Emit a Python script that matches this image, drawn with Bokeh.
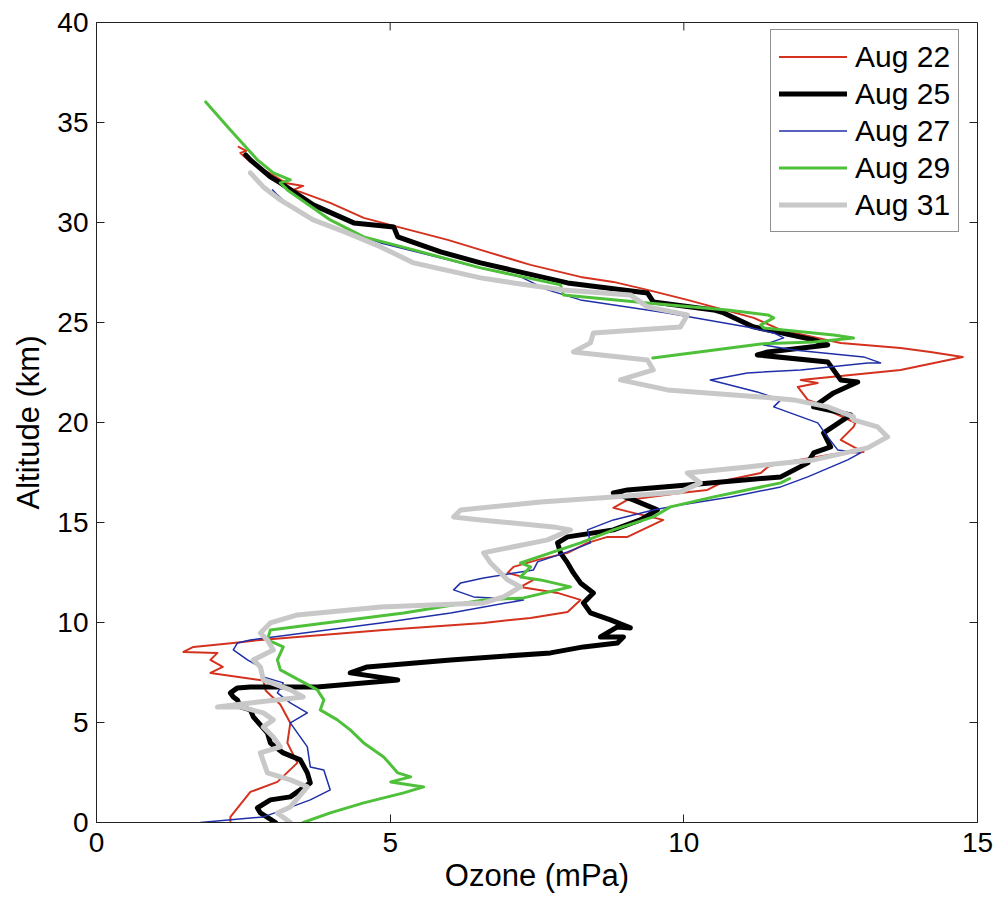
import numpy as np
from bokeh.plotting import figure
from bokeh.models import Range1d, Legend, LegendItem, FixedTicker
from bokeh.embed import file_html
from bokeh.resources import INLINE

# Ozone sonde profiles: partial pressure (mPa) against altitude (km)
oz_aug22 = [2.28, 2.28, 2.62, 3.08, 3.42, 3.25, 3.30, 3.13, 2.88, 2.84, 1.94, 2.15, 1.94, 2.06, 1.48, 1.65,
            2.33, 2.79, 4.89, 6.59, 7.39, 8.02, 8.24, 7.85, 7.22, 7.44, 7.00, 7.10, 7.51, 8.02, 8.36, 8.70,
            9.04, 9.65, 9.14, 8.80, 9.04, 9.94, 10.40, 10.74, 11.31, 11.43, 11.65, 12.67, 13.06, 12.89, 12.67,
            12.89, 12.92, 12.55, 12.45, 12.11, 11.94, 12.28, 11.99, 13.69, 14.75, 14.20, 13.69, 12.67, 11.65,
            11.19, 10.06, 9.38, 8.80, 8.24, 7.39, 6.54, 5.98, 5.13, 4.55, 3.98, 3.47, 3.35, 3.52, 3.22, 3.08,
            2.62, 2.45, 2.55, 2.42]
alt_aug22 = [0.00, 0.28, 1.53, 2.03, 2.98, 3.98, 4.98, 5.90, 6.60, 7.10, 7.48, 7.78, 8.13, 8.48, 8.53, 8.78,
             8.98, 9.13, 9.63, 9.98, 10.23, 10.53, 11.13, 11.48, 11.78, 12.13, 12.48, 12.78, 13.13, 13.48, 13.98,
             14.28, 14.28, 15.13, 15.48, 15.73, 16.13, 16.48, 16.63, 17.13, 17.48, 17.78, 17.98, 18.48, 18.53,
             18.78, 19.13, 19.78, 19.98, 20.48, 20.78, 21.13, 21.78, 21.98, 22.13, 22.63, 23.28, 23.53, 23.73,
             23.98, 24.63, 25.23, 26.13, 26.63, 27.03, 27.28, 27.88, 28.63, 29.13, 29.78, 30.23, 30.98, 31.53,
             31.63, 31.83, 31.98, 32.23, 33.03, 33.48, 33.58, 33.78]

oz_aug25 = [3.05, 2.79, 2.74, 2.96, 3.30, 3.64, 3.59, 3.47, 3.18, 2.96, 2.91, 2.67, 2.62, 2.45, 2.40, 2.33,
            2.28, 2.40, 2.62, 3.76, 5.13, 4.32, 4.61, 6.03, 7.73, 8.29, 8.87, 8.97, 8.58, 8.87, 9.09, 8.75,
            8.41, 8.29, 8.46, 8.24, 8.12, 8.02, 7.90, 7.85, 8.02, 8.80, 9.26, 9.55, 9.14, 8.80, 9.04, 10.06,
            11.65, 12.11, 12.21, 12.50, 12.38, 12.84, 12.21, 12.55, 12.96, 12.67, 12.45, 11.25, 11.43, 12.45,
            12.21, 11.19, 10.68, 10.51, 9.48, 9.38, 8.02, 6.54, 5.86, 5.13, 5.06, 4.38, 3.69, 3.13, 2.96,
            2.62, 2.54]
alt_aug25 = [0.00, 0.48, 0.73, 1.13, 1.28, 1.98, 2.48, 3.13, 3.48, 3.98, 4.48, 5.28, 5.63, 5.78, 6.13, 6.28,
             6.48, 6.73, 6.78, 6.78, 7.13, 7.48, 7.78, 8.13, 8.48, 8.78, 8.98, 9.28, 9.28, 9.78, 9.73, 10.13,
             10.48, 10.98, 11.48, 11.98, 12.48, 12.98, 13.48, 13.98, 14.28, 14.63, 15.13, 15.63, 16.13, 16.48,
             16.63, 16.88, 17.28, 17.98, 18.48, 18.78, 19.48, 20.38, 20.78, 21.48, 22.03, 22.13, 23.03, 23.38,
             23.53, 23.88, 24.13, 24.78, 25.48, 25.63, 26.03, 26.48, 26.98, 27.98, 28.53, 29.28, 29.78, 29.98,
             30.88, 31.98, 32.28, 33.13, 33.38]

oz_aug27 = [1.77, 2.84, 3.18, 3.64, 3.98, 3.87, 3.64, 3.59, 3.42, 3.30, 3.59, 3.30, 3.08, 3.18, 2.84, 2.79,
            2.57, 2.33, 2.40, 2.62, 4.84, 6.03, 7.27, 6.42, 6.08, 6.20, 6.59, 7.44, 7.51, 8.02, 8.41, 8.36,
            8.80, 9.48, 9.94, 10.80, 11.65, 12.11, 12.79, 13.01, 12.62, 12.45, 12.28, 11.53, 11.65, 11.25,
            10.45, 11.08, 11.99, 13.13, 13.35, 13.06, 11.87, 11.36, 11.70, 11.53, 11.08, 9.72, 8.24, 7.68,
            7.22, 6.54, 4.84, 3.69, 3.30, 3.08, 3.00]
alt_aug27 = [0.00, 0.28, 0.63, 1.13, 1.63, 2.63, 2.78, 3.78, 4.48, 4.98, 5.48, 5.98, 6.48, 6.98, 7.28, 7.78,
             8.13, 8.63, 8.98, 9.13, 9.98, 10.48, 11.13, 11.28, 11.63, 11.98, 12.23, 12.63, 13.03, 13.53, 13.98,
             14.63, 15.13, 15.63, 15.88, 16.28, 16.78, 17.28, 18.13, 18.48, 18.63, 19.28, 19.98, 20.78, 21.13,
             21.53, 22.13, 22.48, 22.63, 22.98, 22.98, 23.28, 23.63, 23.88, 24.23, 24.48, 24.78, 25.48, 26.13,
             26.63, 27.28, 27.73, 28.98, 30.13, 30.78, 31.38, 31.63]

# Aug 29 has no data between about 17 and 23 km (NaN breaks the line)
oz_aug29 = [3.52, 3.98, 4.55, 5.23, 5.57, 5.01, 5.35, 5.13, 4.89, 4.55, 4.32, 4.10, 3.81, 3.87, 3.76, 3.13,
            3.08, 3.18, 2.91, 2.96, 5.23, 6.59, 7.27, 8.07, 7.56, 7.22, 7.39, 7.22, 7.73, 8.24, 8.80, 9.48,
            9.77, 10.51, 11.65, 11.80, float("nan"), 9.47, 11.31, 12.21, 12.89, 12.55, 11.36, 11.31, 11.53,
            11.43, 10.74, 9.38, 7.95, 7.90, 7.10, 6.54, 5.40, 4.55, 3.98, 3.42, 3.25, 3.13, 3.30, 3.01, 2.74,
            2.28, 1.86]
alt_aug29 = [0.00, 0.48, 0.98, 1.48, 1.78, 2.03, 2.28, 2.48, 3.28, 3.98, 4.63, 5.13, 5.63, 6.13, 6.63, 7.63,
             8.13, 8.78, 9.13, 9.63, 10.48, 11.13, 11.23, 11.78, 12.13, 12.28, 12.78, 12.98, 13.48, 13.98,
             14.63, 15.28, 15.78, 16.28, 16.98, 17.20, float("nan"), 23.23, 23.93, 24.03, 24.23, 24.38, 24.73,
             24.88, 25.23, 25.38, 25.63, 25.98, 26.38, 26.88, 27.38, 27.73, 28.63, 29.28, 30.13, 31.28, 31.63,
             31.98, 32.13, 32.48, 33.13, 34.63, 36.03]

oz_aug31 = [3.30, 3.08, 3.30, 3.59, 3.30, 2.91, 2.79, 3.13, 3.01, 2.84, 3.01, 2.84, 2.45, 2.06, 2.62, 3.52,
            3.30, 2.84, 2.79, 2.67, 3.01, 2.91, 2.79, 2.96, 3.42, 4.84, 6.59, 6.93, 7.22, 7.00, 6.71, 6.59,
            6.83, 7.68, 8.07, 7.78, 6.54, 6.08, 6.20, 7.56, 8.80, 9.94, 10.28, 10.06, 11.08, 12.21, 13.13,
            13.47, 13.30, 12.89, 12.89, 12.45, 11.87, 11.31, 9.72, 8.92, 9.48, 9.38, 8.12, 8.41, 8.46, 9.94,
            10.06, 9.38, 9.09, 7.95, 7.10, 6.54, 5.40, 4.84, 4.27, 3.69, 3.13, 2.84, 2.62]
alt_aug31 = [0.00, 0.48, 0.78, 1.78, 2.13, 2.48, 3.48, 3.78, 4.28, 4.78, 5.13, 5.48, 5.78, 5.78, 5.98, 6.28,
             6.63, 7.13, 7.78, 8.13, 8.63, 9.13, 9.48, 9.98, 10.38, 10.78, 10.98, 11.28, 11.78, 12.13, 12.98,
             13.48, 13.63, 14.13, 14.63, 14.78, 15.13, 15.28, 15.63, 16.03, 16.28, 16.53, 16.98, 17.48, 17.78,
             18.13, 18.73, 19.28, 19.78, 20.13, 20.28, 20.78, 21.13, 21.28, 21.63, 22.13, 22.63, 23.13, 23.53,
             23.98, 24.48, 24.78, 25.38, 25.78, 26.38, 26.63, 26.98, 27.23, 27.98, 28.78, 29.48, 30.13, 31.13,
             31.78, 32.48]

labels = ["Aug 22", "Aug 25", "Aug 27", "Aug 29", "Aug 31"]
x_ticks = [0, 5, 10, 15]
y_ticks = [0, 5, 10, 15, 20, 25, 30, 35, 40]

series = [
    (oz_aug22, alt_aug22, "#d4321e", 2),
    (oz_aug25, alt_aug25, "#000000", 5),
    (oz_aug27, alt_aug27, "#1f2fa8", 1.5),
    (oz_aug29, alt_aug29, "#4fc03a", 3),
    (oz_aug31, alt_aug31, "#c8c8c8", 5),
]

FONT = "Liberation Sans"
X0, X1, Y0, Y1 = 0, 15, 0, 40
W, H = 1000, 899
BL, BR, BT, BB = 96, 23, 22, 77
TICK_PX = 8

p = figure(width=W, height=H, output_backend="svg", toolbar_location=None,
           x_range=Range1d(X0, X1), y_range=Range1d(Y0, Y1),
           min_border_left=BL, min_border_right=BR, min_border_top=BT, min_border_bottom=BB)
p.background_fill_color = "white"
p.border_fill_color = "white"
p.outline_line_color = "#222222"
p.outline_line_width = 1
p.xgrid.visible = False
p.ygrid.visible = False

renderers = []
for (ox, ay, color, lw) in series:
    r = p.line(np.array(ox, dtype=float), np.array(ay, dtype=float),
               line_color=color, line_width=lw, line_join="round", line_cap="round")
    renderers.append(r)

# mirrored inward ticks on the top and right edges of the frame
dx = TICK_PX * (X1 - X0) / (W - BL - BR)
dy = TICK_PX * (Y1 - Y0) / (H - BT - BB)
p.segment(x0=x_ticks, y0=[Y1] * len(x_ticks), x1=x_ticks, y1=[Y1 - dy] * len(x_ticks),
          line_color="#222222", line_width=1)
p.segment(x0=[X1] * len(y_ticks), y0=y_ticks, x1=[X1 - dx] * len(y_ticks), y1=y_ticks,
          line_color="#222222", line_width=1)

xa = p.xaxis[0]
xa.ticker = FixedTicker(ticks=x_ticks)
ya = p.yaxis[0]
ya.ticker = FixedTicker(ticks=y_ticks)

for ax in (xa, ya):
    ax.major_tick_in = TICK_PX
    ax.major_tick_out = 0
    ax.minor_tick_line_color = None
    ax.axis_line_color = "#222222"
    ax.major_tick_line_color = "#222222"
    ax.major_label_text_font = FONT
    ax.major_label_text_font_size = "28px"
    ax.major_label_text_color = "black"
    ax.axis_label_text_font = FONT
    ax.axis_label_text_font_size = "31px"
    ax.axis_label_text_font_style = "normal"
    ax.axis_label_text_color = "black"

xa.major_label_standoff = 10
ya.major_label_standoff = 8
xa.axis_label = "Ozone (mPa)"
ya.axis_label = "Altitude (km)"
xa.axis_label_standoff = 3
ya.axis_label_standoff = 8

legend = Legend(items=[LegendItem(label=lab, renderers=[r]) for lab, r in zip(labels, renderers)],
                location=(674, 590))
legend.label_text_font = FONT
legend.label_text_font_size = "30px"
legend.label_text_color = "black"
legend.glyph_width = 68
legend.glyph_height = 37
legend.label_height = 37
legend.label_standoff = 8
legend.spacing = 0
legend.padding = 8
legend.margin = 0
legend.border_line_color = "#222222"
legend.border_line_width = 1
legend.background_fill_color = "white"
legend.background_fill_alpha = 1
p.add_layout(legend, "center")

open("out.html", "w").write(file_html(p, INLINE))
